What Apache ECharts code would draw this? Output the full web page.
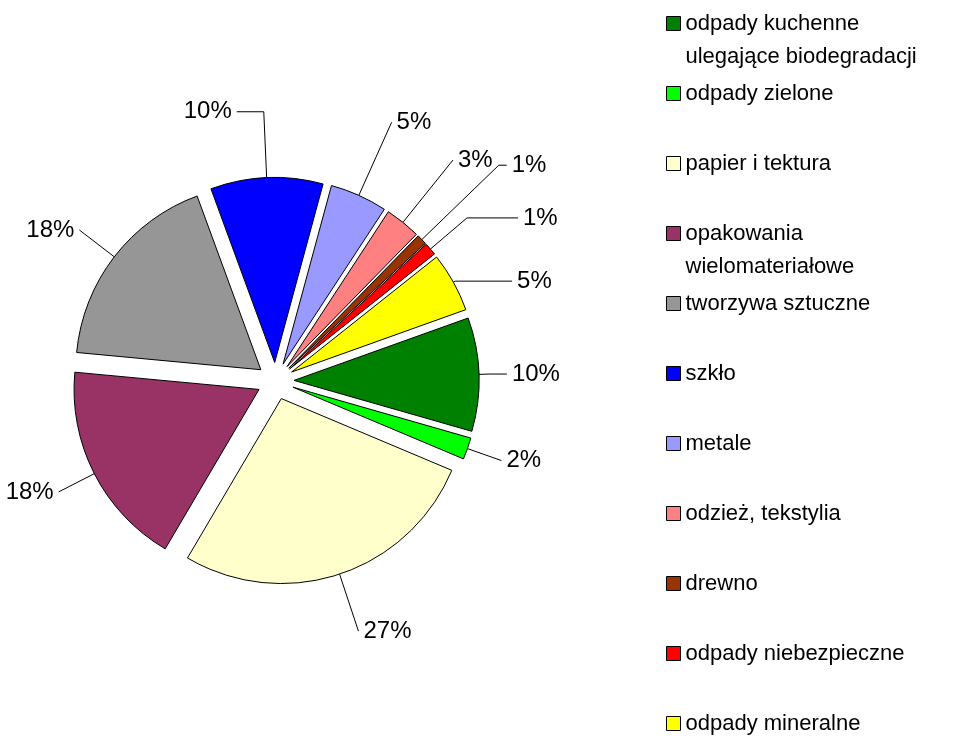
<!DOCTYPE html>
<html>
<head>
<meta charset="utf-8">
<script src="https://cdn.jsdelivr.net/npm/echarts@6/dist/echarts.min.js"></script>
<style>html,body{margin:0;padding:0;background:#fff}#c{width:954px;height:736px}</style>
</head>
<body>
<div id="c"></div>
<script>
// ---- data ----
const categories = [
  'odpady kuchenne ulegające biodegradacji',
  'odpady zielone',
  'papier i tektura',
  'opakowania wielomateriałowe',
  'tworzywa sztuczne',
  'szkło',
  'metale',
  'odzież, tekstylia',
  'drewno',
  'odpady niebezpieczne',
  'odpady mineralne'
];
const values = [9.9, 1.9, 27.1, 18.0, 17.9, 9.8, 5.0, 3.1, 0.9, 1.1, 5.2];
const legendLines = [
  ['odpady kuchenne', 'ulegające biodegradacji'],
  ['odpady zielone'],
  ['papier i tektura'],
  ['opakowania', 'wielomateriałowe'],
  ['tworzywa sztuczne'],
  ['szkło'],
  ['metale'],
  ['odzież, tekstylia'],
  ['drewno'],
  ['odpady niebezpieczne'],
  ['odpady mineralne']
];

// ---- styles ----
const colors = ['#008000', '#00FF00', '#FFFFCC', '#993366', '#969696', '#0000FF',
                '#9999FF', '#FF8080', '#993300', '#FF0000', '#FFFF00'];
const lineLen  = [10, 36, 60, 40, 44, 66, 80, 80, 107, 48, 2];
const lineLen2 = [18, 0, 0, 0, 0, 27, 0, 0, 8, 51, 57];
const FONT = "'Liberation Sans', Arial, sans-serif";

const legendFirst = 23.5, legendStep = 70, lineH = 33;
const legends = categories.map((name, i) => {
  const lines = legendLines[i];
  const two = lines.length > 1;
  return {
    orient: 'vertical',
    left: 666,
    top: legendFirst + legendStep * i - (two ? lineH * 1.5 : lineH / 2),
    padding: 0,
    itemWidth: 14,
    itemHeight: 14,
    icon: 'rect',
    selectedMode: false,
    data: [name],
    // a leading empty line keeps the first text line level with the marker
    formatter: () => (two ? '\n' : '') + lines.join('\n'),
    itemStyle: { borderColor: '#000', borderWidth: 1 },
    textStyle: { fontFamily: FONT, fontSize: 22, color: '#000', lineHeight: lineH }
  };
});

const chart = echarts.init(document.getElementById('c'), null, { renderer: 'canvas' });
chart.setOption({
  animation: false,
  backgroundColor: '#fff',
  legend: legends,
  series: [{
    type: 'pie',
    center: [275.5, 381],
    radius: 185,
    startAngle: 19.7,
    clockwise: true,
    selectedMode: 'multiple',
    selectedOffset: 18.5,
    avoidLabelOverlap: false,
    percentPrecision: 0,
    label: {
      show: true, position: 'outside', formatter: '{d}%',
      fontFamily: FONT, fontSize: 24, color: '#000', distanceToLabelLine: 5
    },
    labelLine: { show: true, lineStyle: { color: '#000', width: 1 } },
    itemStyle: { borderColor: '#000', borderWidth: 1 },
    select: { itemStyle: { borderColor: '#000', borderWidth: 1 } },
    emphasis: { disabled: true },
    data: categories.map((n, i) => ({
      name: n,
      value: values[i],
      selected: true,
      itemStyle: { color: colors[i] },
      labelLine: { length: lineLen[i], length2: lineLen2[i] }
    }))
  }]
});
</script>
</body>
</html>
